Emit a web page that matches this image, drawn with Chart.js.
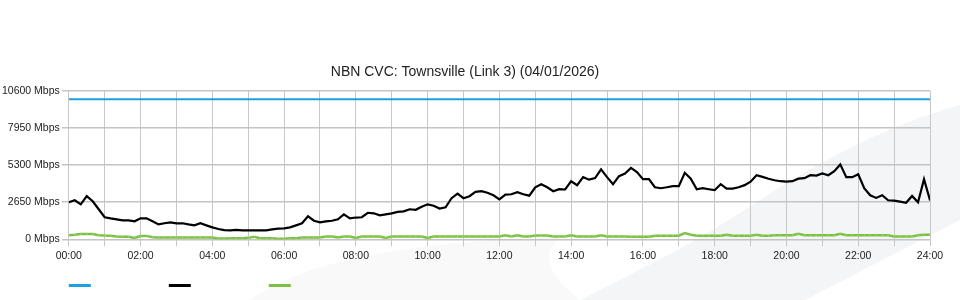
<!DOCTYPE html>
<html>
<head>
<meta charset="utf-8">
<script src="https://cdn.jsdelivr.net/npm/chart.js@4.4.1/dist/chart.umd.min.js"></script>
<style>
  html, body { margin: 0; padding: 0; background: #fff; }
  #wrap { width: 960px; height: 300px; position: relative; }
</style>
</head>
<body>
<div id="wrap"><canvas id="view-canvas"></canvas></div>
<script>
// 10 minute samples, 00:00 .. 24:00
var sampleMinutes = 10;
var xTickHours = ['00:00', '02:00', '04:00', '06:00', '08:00', '10:00', '12:00',
    '14:00', '16:00', '18:00', '20:00', '22:00', '24:00'];
var yTicks = [0, 2650, 5300, 7950, 10600];

var capacityTimes = [0, 1440];
var capacityMbps = [10000, 10000];

var downloadMbps = [
    2650, 2790, 2500, 3080, 2720, 2150, 1580, 1500, 1430, 1360,
    1360, 1290, 1500, 1500, 1290, 1070, 1150, 1220, 1150, 1150,
    1070, 1000, 1150, 1000, 860, 740, 660, 640, 680, 640,
    640, 640, 640, 640, 720, 770, 790, 860, 1000, 1150,
    1650, 1330, 1220, 1290, 1330, 1430, 1790, 1500, 1560, 1580,
    1900, 1860, 1720, 1790, 1860, 1960, 2000, 2150, 2110, 2330,
    2500, 2400, 2200, 2290, 2940, 3270, 2940, 3080, 3390, 3440,
    3330, 3150, 2860, 3190, 3220, 3370, 3220, 3120, 3720, 3940,
    3720, 3440, 3580, 3560, 4150, 3870, 4440, 4260, 4370, 4990,
    4440, 3940, 4510, 4700, 5100, 4800, 4300, 4300, 3720, 3650,
    3720, 3800, 3800, 4750, 4330, 3580, 3650, 3580, 3510, 3940,
    3620, 3620, 3720, 3870, 4120, 4580, 4460, 4330, 4220, 4150,
    4120, 4150, 4330, 4370, 4580, 4550, 4700, 4580, 4870, 5350,
    4440, 4440, 4650, 3650, 3150, 2960, 3150, 2790, 2770, 2690,
    2610, 3100, 2650, 4300, 2790
];

var uploadMbps = [
    290, 330, 380, 380, 380, 290, 270, 260, 200, 190,
    190, 100, 240, 250, 150, 140, 140, 140, 140, 140,
    140, 140, 140, 140, 140, 60, 60, 90, 90, 90,
    110, 190, 90, 90, 90, 50, 50, 90, 90, 140,
    140, 140, 140, 200, 200, 140, 200, 200, 100, 200,
    200, 200, 200, 100, 200, 200, 200, 200, 200, 200,
    110, 210, 210, 210, 210, 210, 210, 210, 210, 210,
    210, 210, 215, 290, 215, 290, 215, 215, 270, 270,
    270, 215, 215, 215, 290, 215, 215, 215, 215, 290,
    215, 215, 215, 215, 190, 190, 190, 190, 265, 265,
    265, 265, 265, 450, 330, 265, 265, 265, 265, 265,
    330, 265, 265, 265, 265, 330, 265, 265, 290, 290,
    290, 290, 400, 290, 290, 290, 290, 290, 290, 400,
    290, 290, 290, 290, 290, 290, 290, 290, 215, 215,
    215, 215, 290, 330, 330
];

var colors = ['#1ba1e2', '#000000', '#7cc242'];

function toPoints(times, values) {
    return values.map(function (v, i) { return { x: times ? times[i] : i * sampleMinutes, y: v }; });
}

function hhmm(min) {
    var h = Math.floor(min / 60), m = min % 60;
    return (h < 10 ? '0' : '') + h + ':' + (m < 10 ? '0' : '') + m;
}

// light grey swoosh behind the chart
var backdrop = {
    id: 'backdrop',
    beforeDraw: function (chart) {
        var c = chart.ctx, w = chart.width, h = chart.height;
        c.save();
        c.fillStyle = '#ffffff';
        c.fillRect(0, 0, w, h);
        c.fillStyle = '#f4f5f7';
        c.beginPath();
        c.moveTo(580, h);
        c.bezierCurveTo(650, 265, 700, 240, 760, 200);
        c.bezierCurveTo(830, 155, 890, 125, w, 105);
        c.lineTo(w, 220);
        c.lineTo(805, h);
        c.closePath();
        c.fill();
        c.fillStyle = '#f9f9fa';
        c.beginPath();
        c.moveTo(250, h);
        c.quadraticCurveTo(330, 242, 560, 238);
        c.quadraticCurveTo(530, 262, 580, h);
        c.closePath();
        c.fill();
        c.restore();
    }
};

// legend: plain swatches under the axis, no text
var swatches = {
    id: 'swatches',
    afterDraw: function (chart) {
        var c = chart.ctx;
        var left = chart.chartArea.left;
        c.save();
        chart.data.datasets.forEach(function (ds, i) {
            c.fillStyle = ds.borderColor;
            c.fillRect(left + i * 100, chart.height - 16, 22, 3);
        });
        c.restore();
    }
};

var tickFont = { family: "'Liberation Sans', Arial, sans-serif", size: 10.5 };

var canvas = document.getElementById('view-canvas');
var myChart = new Chart(canvas, {
    type: 'line',
    data: {
        datasets: [{
            borderColor: colors[0],
            backgroundColor: colors[0],
            borderWidth: 2,
            pointRadius: 0,
            data: toPoints(capacityTimes, capacityMbps)
        },
        {
            borderColor: colors[1],
            backgroundColor: colors[1],
            borderWidth: 2.2,
            pointRadius: 0.6,
            pointBorderWidth: 0,
            data: toPoints(null, downloadMbps)
        },
        {
            borderColor: colors[2],
            backgroundColor: '#9fd16f',
            borderWidth: 2.5,
            pointRadius: 0.8,
            pointBorderWidth: 0,
            data: toPoints(null, uploadMbps)
        }]
    },
    plugins: [backdrop, swatches],
    options: {
        responsive: true,
        maintainAspectRatio: false,
        animation: false,
        layout: { padding: { left: 0, right: 30, top: 0, bottom: 35 } },
        elements: { line: { tension: 0 } },
        scales: {
            x: {
                type: 'linear',
                min: 0,
                max: 1440,
                grid: { color: '#c8c8c8', lineWidth: 1, tickLength: 7 },
                border: { display: false },
                ticks: {
                    stepSize: 60,
                    autoSkip: false,
                    maxRotation: 0,
                    padding: 3,
                    color: '#222',
                    font: tickFont,
                    callback: function (v) {
                        var label = hhmm(v);
                        return xTickHours.indexOf(label) >= 0 ? label : '';
                    }
                }
            },
            y: {
                min: yTicks[0],
                max: yTicks[yTicks.length - 1],
                grid: { color: '#c4c4c4', lineWidth: 1.5, tickLength: 7 },
                border: { display: false },
                ticks: {
                    stepSize: yTicks[1] - yTicks[0],
                    padding: 2,
                    color: '#222',
                    font: tickFont,
                    callback: function (v) { return v + ' Mbps'; }
                }
            }
        },
        plugins: {
            legend: { display: false },
            tooltip: { enabled: false },
            title: {
                display: true,
                text: 'NBN CVC: Townsville (Link 3) (04/01/2026)',
                color: '#222',
                font: { family: "'Liberation Sans', Arial, sans-serif", size: 14, weight: 'normal' },
                padding: { top: 64, bottom: 10 }
            }
        }
    }
});
</script>
</body>
</html>
